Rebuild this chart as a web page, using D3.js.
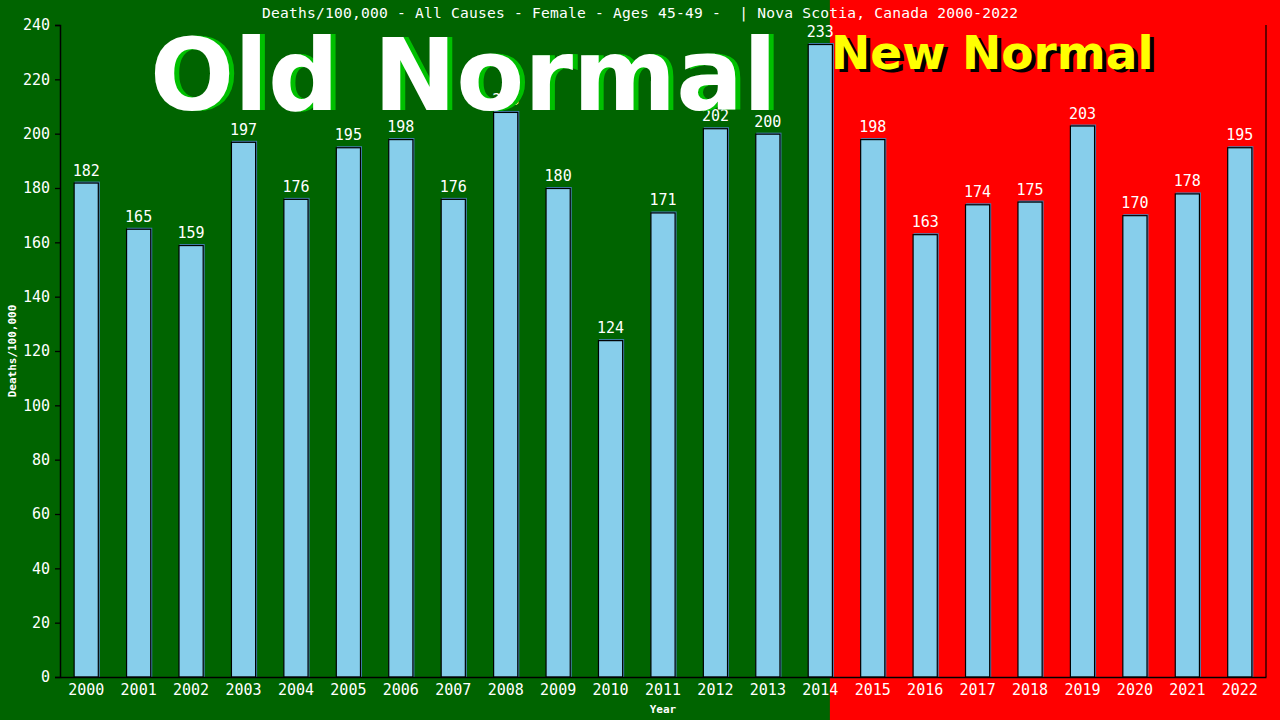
<!DOCTYPE html>
<html>
<head>
<meta charset="utf-8">
<script src="https://cdn.jsdelivr.net/npm/d3@7"></script>
<style>
  body { margin: 0; background: #006400; }
  svg { display: block; }
</style>
</head>
<body>
<div id="chart"></div>
<script>
// Data
var years = ["2000", "2001", "2002", "2003", "2004", "2005", "2006", "2007", "2008", "2009", "2010", "2011",
             "2012", "2013", "2014", "2015", "2016", "2017", "2018", "2019", "2020", "2021", "2022"];
var deaths = [182, 165, 159, 197, 176, 195, 198, 176, 208, 180, 124, 171,
              202, 200, 233, 198, 163, 174, 175, 203, 170, 178, 195];
var yTicks = [0, 20, 40, 60, 80, 100, 120, 140, 160, 180, 200, 220, 240];
var lastOldYear = "2014"; // Old Normal ends with this bar

var data = years.map(function(y, i) { return { year: y, value: deaths[i] }; });

var width = 1280,
    height = 720;
var margin = ({ top: 25, right: 14, bottom: 43, left: 60 }),
    iwidth = width - margin.left - margin.right,
    iheight = height - margin.top - margin.bottom;

var mono = "'DejaVu Sans Mono', 'Liberation Mono', monospace";

var svg = d3.select("#chart")
    .append("svg")
    .attr("width", width)
    .attr("height", height);

var x = d3.scaleBand()
    .domain(years)
    .range([0, iwidth])
    .paddingInner(0.52)
    .paddingOuter(0.26);

var y = d3.scaleLinear()
    .domain([0, 240])
    .range([iheight, 0]);

// Backgrounds: green old normal, red new normal
var splitX = margin.left + x(lastOldYear) + x.bandwidth() - 3;
svg.append("rect").attr("x", 0).attr("y", 0).attr("width", splitX).attr("height", height).attr("fill", "#006400");
svg.append("rect").attr("x", splitX).attr("y", 0).attr("width", width - splitX).attr("height", height).attr("fill", "#ff0000");

var g = svg.append("g")
    .attr("transform", `translate(${margin.left}, ${margin.top})`);

// Bars: steelblue shadow, then skyblue body with black outline
g.selectAll("rect.shade")
    .data(data)
    .enter()
    .append("rect")
    .attr("class", "shade")
    .attr("x", function(d) { return x(d.year) + 1; })
    .attr("y", function(d) { return y(d.value) - 1; })
    .attr("width", x.bandwidth())
    .attr("height", function(d) { return iheight - y(d.value) + 1; })
    .attr("fill", "#4682b4");

g.selectAll("rect.bar")
    .data(data)
    .enter()
    .append("rect")
    .attr("class", "bar")
    .attr("x", function(d) { return x(d.year) + 0.5; })
    .attr("y", function(d) { return y(d.value) + 0.5; })
    .attr("width", x.bandwidth() - 1)
    .attr("height", function(d) { return iheight - y(d.value) - 0.5; })
    .attr("fill", "#87ceeb")
    .attr("stroke", "#000")
    .attr("stroke-width", 1.2);

// Value labels
g.selectAll("text.val")
    .data(data)
    .enter()
    .append("text")
    .attr("class", "val")
    .attr("x", function(d) { return x(d.year) + x.bandwidth() / 2; })
    .attr("y", function(d) { return y(d.value) - 7; })
    .attr("text-anchor", "middle")
    .attr("fill", "#fff")
    .style("font-family", mono)
    .style("font-size", "15px")
    .text(function(d) { return d.value; });

// Axes
var yAxis = g.append("g")
    .call(d3.axisLeft(y).tickValues(yTicks).tickSize(5).tickPadding(5));
var xAxis = g.append("g")
    .attr("transform", `translate(0, ${iheight})`)
    .call(d3.axisBottom(x).tickSize(0).tickPadding(7));

[yAxis, xAxis].forEach(function(a) {
    a.select(".domain").attr("stroke", "#000").attr("stroke-width", 1.5);
    a.selectAll(".tick line").attr("stroke", "#000").attr("stroke-width", 1.3);
    a.selectAll("text")
        .attr("fill", "#fff")
        .style("font-family", mono)
        .style("font-size", "15px");
});

// Right frame line
g.append("line")
    .attr("x1", iwidth).attr("x2", iwidth)
    .attr("y1", 0).attr("y2", iheight)
    .attr("stroke", "#000").attr("stroke-width", 1.2);

// Title and axis titles
svg.append("text")
    .attr("x", 640).attr("y", 18)
    .attr("text-anchor", "middle")
    .attr("fill", "#fff")
    .attr("xml:space", "preserve")
    .style("white-space", "pre")
    .style("font-family", mono)
    .style("font-size", "14.6px")
    .attr("textLength", 756)
    .attr("lengthAdjust", "spacing")
    .text("Deaths/100,000 - All Causes - Female - Ages 45-49 -  | Nova Scotia, Canada 2000-2022");

svg.append("text")
    .attr("x", margin.left + iwidth / 2).attr("y", 713)
    .attr("text-anchor", "middle")
    .attr("fill", "#fff")
    .style("font-family", mono)
    .style("font-size", "11px")
    .style("font-weight", "bold")
    .text("Year");

svg.append("text")
    .attr("transform", "translate(16, 351) rotate(-90)")
    .attr("text-anchor", "middle")
    .attr("fill", "#fff")
    .style("font-family", mono)
    .style("font-size", "11px")
    .style("font-weight", "bold")
    .text("Deaths/100,000");

// Big overlay captions
var sans = "'DejaVu Sans', Verdana, sans-serif";
svg.append("text")
    .attr("x", 155).attr("y", 110)
    .attr("fill", "#00c000")
    .style("font-family", sans).style("font-weight", "bold").style("font-size", "99px")
    .text("Old Normal");
svg.append("text")
    .attr("x", 150).attr("y", 110)
    .attr("fill", "#fff")
    .style("font-family", sans).style("font-weight", "bold").style("font-size", "99px")
    .text("Old Normal");

svg.append("text")
    .attr("x", 835).attr("y", 72)
    .attr("fill", "#000")
    .style("font-family", sans).style("font-weight", "bold").style("font-size", "47px")
    .text("New Normal");
svg.append("text")
    .attr("x", 831).attr("y", 69)
    .attr("fill", "#ffff00")
    .style("font-family", sans).style("font-weight", "bold").style("font-size", "47px")
    .text("New Normal");
</script>
</body>
</html>
